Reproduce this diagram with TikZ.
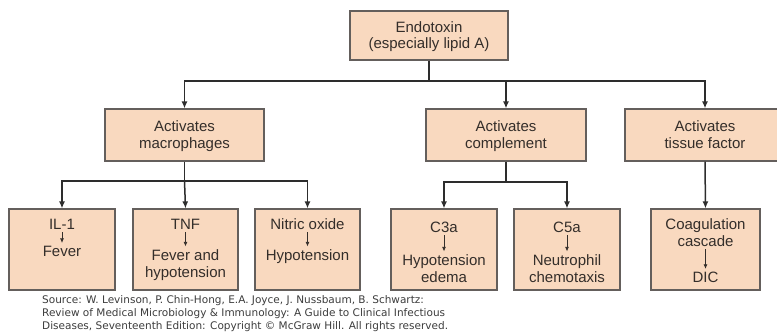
\documentclass[tikz,border=0pt]{standalone}
\usepackage{fontspec}
\setmainfont{Liberation Sans}
\newfontfamily\srcfont{DejaVu Sans}
\usetikzlibrary{arrows.meta}
\definecolor{boxfill}{RGB}{249,217,191}
\definecolor{boxline}{RGB}{100,95,92}
\definecolor{txt}{RGB}{52,46,42}
\definecolor{conn}{RGB}{45,45,45}
\definecolor{srctxt}{RGB}{60,60,60}
\begin{document}
\begin{tikzpicture}[x=1pt,y=-1pt,
  box/.style={draw=boxline, fill=boxfill, line width=1.2pt, inner sep=0pt},
  lbl/.style={anchor=base, inner sep=0pt, text=txt, font=\fontsize{15}{17}\selectfont},
  conn/.style={draw=conn, line width=1.5pt},
  arr/.style={conn, -{Latex[length=7pt,width=6pt]}},
  smallarr/.style={draw=txt, line width=0.8pt, -{Latex[length=4.5pt,width=4pt]}, shorten <=3pt, shorten >=2.5pt},
  src/.style={anchor=base west, inner sep=0pt, text=srctxt, font=\srcfont\fontsize{10.5}{12}\selectfont}
]
\useasboundingbox (0,0) rectangle (777,335);

% level 1
\node[box, minimum width=158pt, minimum height=49pt] (top) at (429,35.5) {};
\node[lbl] (topa) at (429,32) {Endotoxin};
\node[lbl] (topb) at (429,48) {(especially lipid A)};

% level 2
\node[box, minimum width=159pt, minimum height=52pt] (mac) at (184.5,135) {};
\node[lbl] (maca) at (184.5,131) {Activates};
\node[lbl] (macb) at (184.5,148) {macrophages};
\node[box, minimum width=160pt, minimum height=52pt] (comp) at (506,135) {};
\node[lbl] (compa) at (506,131) {Activates};
\node[lbl] (compb) at (506,148) {complement};
\node[box, minimum width=160pt, minimum height=52pt] (tis) at (705,135) {};
\node[lbl] (tisa) at (705,131) {Activates};
\node[lbl] (tisb) at (705,148) {tissue factor};

% level 3
\node[box, minimum width=106pt, minimum height=81pt] (il) at (62,249.5) {};
\node[lbl] (ila) at (62,229) {IL-1};
\node[lbl] (ilb) at (62,256) {Fever};
\draw[smallarr] (ila) -- (ilb);

\node[box, minimum width=105pt, minimum height=81pt] (tnf) at (185.5,249.5) {};
\node[lbl] (tnfa) at (185.5,229) {TNF};
\node[lbl] (tnfb) at (185.5,260) {Fever and};
\node[lbl] (tnfc) at (185.5,277) {hypotension};
\draw[smallarr] (tnfa) -- (tnfb);

\node[box, minimum width=105pt, minimum height=81pt] (no) at (307.5,249.5) {};
\node[lbl] (noa) at (307.5,229) {Nitric oxide};
\node[lbl] (nob) at (307.5,260) {Hypotension};
\draw[smallarr] (noa) -- (nob);

\node[box, minimum width=106pt, minimum height=81pt] (c3) at (444,249.5) {};
\node[lbl] (c3a) at (444,232) {C3a};
\node[lbl] (c3b) at (444,265) {Hypotension};
\node[lbl] (c3c) at (444,282) {edema};
\draw[smallarr] (c3a) -- (c3b);

\node[box, minimum width=106pt, minimum height=81pt] (c5) at (567,249.5) {};
\node[lbl] (c5a) at (567,232) {C5a};
\node[lbl] (c5b) at (567,265) {Neutrophil};
\node[lbl] (c5c) at (567,282) {chemotaxis};
\draw[smallarr] (c5a) -- (c5b);

\node[box, minimum width=109pt, minimum height=81pt] (co) at (705.5,249.5) {};
\node[lbl] (coa) at (705.5,229) {Coagulation};
\node[lbl] (cob) at (705.5,246) {cascade};
\node[lbl] (coc) at (705.5,282) {DIC};
\draw[smallarr] (cob) -- (coc);

% connectors
\coordinate (j1) at (429,81);
\coordinate (j2) at (184.5,181);
\coordinate (j3) at (506,182);
\draw[conn] (top.south) -- (j1);
\draw[arr] (j1) -| (mac.north);
\draw[arr] (j1) -| (comp.north);
\draw[arr] (j1) -| (tis.north);
\draw[conn] (mac.south) -- (j2);
\draw[arr] (j2) -| (il.north);
\draw[arr] (j2) -- (tnf.north);
\draw[arr] (j2) -| (no.north);
\draw[conn] (comp.south) -- (j3);
\draw[arr] (j3) -| (c3.north);
\draw[arr] (j3) -| (c5.north);
\draw[arr] (tis.south) -- (co.north);

% source
\node[src] (s1) at (42,303) {Source: W. Levinson, P. Chin-Hong, E.A. Joyce, J. Nussbaum, B. Schwartz:};
\node[src] (s2) at (42,316) {Review of Medical Microbiology \& Immunology: A Guide to Clinical Infectious};
\node[src] (s3) at (42,329) {Diseases, Seventeenth Edition: Copyright © McGraw Hill. All rights reserved.};
\end{tikzpicture}
\end{document}
